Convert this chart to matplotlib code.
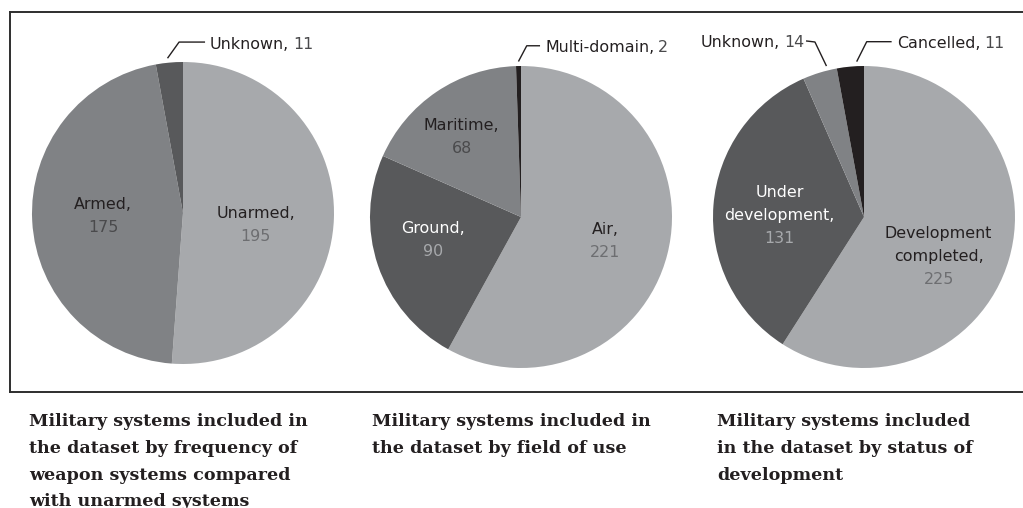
import numpy as np
import matplotlib.pyplot as plt
from matplotlib.lines import Line2D

W, H = 1023, 508
fig = plt.figure(figsize=(W / 100, H / 100), dpi=100)

# data
armed_labels = ['Unarmed,', 'Armed,', 'Unknown,']
armed_values = [195, 175, 11]
field_labels = ['Air,', 'Ground,', 'Maritime,', 'Multi-domain,']
field_values = [221, 90, 68, 2]
status_labels = ['Development\ncompleted,', 'Under\ndevelopment,', 'Unknown,', 'Cancelled,']
status_values = [225, 131, 14, 11]

titles = [
    ['Military systems included in', 'the dataset by frequency of',
     'weapon systems compared', 'with unarmed systems'],
    ['Military systems included in', 'the dataset by field of use'],
    ['Military systems included', 'in the dataset by status of', 'development'],
]

LIGHT, MID, DARK, BLACK = '#a7a9ac', '#808285', '#58595b', '#231f20'
TXT = '#231f20'
# name colour, number colour for labels sitting on a slice
on_slice = {LIGHT: (TXT, '#6d6e71'), MID: (TXT, '#4a4a4c'), DARK: ('white', '#a7a9ac')}

R = 151  # pie radius in pixels
pies = [
    dict(labels=armed_labels, values=armed_values, colors=[LIGHT, MID, DARK], center=(183, 213),
         # inside: (dist, angle shift) ; outside: (frac, elbow, end, side)
         place=[('in', 0.49, -7.6), ('in', 0.53, -1.0),
                ('out', 0.55, (-0.026, 1.132), (0.146, 1.132), 'right')]),
    dict(labels=field_labels, values=field_values, colors=[LIGHT, DARK, MID, BLACK], center=(521, 217),
         place=[('in', 0.58, -1.5), ('in', 0.60, -4.0), ('in', 0.66, 2.5),
                ('out', 0.5, (0.038, 1.134), (0.126, 1.134), 'right')]),
    dict(labels=status_labels, values=status_values, colors=[LIGHT, DARK, MID, BLACK], center=(864, 217),
         place=[('in', 0.56, -11.8), ('in', 0.56, 3.8),
                ('out', 0.27, (-0.325, 1.159), (-0.384, 1.166), 'left'),
                ('out', 0.26, (0.018, 1.161), (0.183, 1.161), 'right')]),
]

FS = 11.4
LS = 23  # inside label line step, px

for p in pies:
    cx, cy = p['center']
    ax = fig.add_axes([(cx - R) / W, (H - cy - R) / H, 2 * R / W, 2 * R / H])
    wedges, _ = ax.pie(p['values'], colors=p['colors'], startangle=90, counterclock=False,
                       radius=1, wedgeprops=dict(linewidth=0))
    ax.set_xlim(-1, 1)
    ax.set_ylim(-1, 1)
    ax.axis('off')

    for w, name, val, col, pl in zip(wedges, p['labels'], p['values'], p['colors'], p['place']):
        if pl[0] == 'in':
            _, dist, dth = pl
            th = np.deg2rad((w.theta1 + w.theta2) / 2 + dth)
            pos = (dist * np.cos(th), dist * np.sin(th))
            lines = name.split('\n') + [str(val)]
            ncol, vcol = on_slice[col]
            n = len(lines)
            for k, line in enumerate(lines):
                ax.annotate(line, xy=pos, xytext=(0, ((n - 1) / 2 - k) * LS),
                            textcoords='offset pixels', ha='center', va='center',
                            fontsize=FS, color=vcol if k == n - 1 else ncol, annotation_clip=False)
        else:
            _, f, elbow, end, side = pl
            th = np.deg2rad(w.theta1 + f * (w.theta2 - w.theta1))
            start = (1.03 * np.cos(th), 1.03 * np.sin(th))
            ax.plot([start[0], elbow[0], end[0]], [start[1], elbow[1], end[1]],
                    color=TXT, lw=1.0, clip_on=False, solid_capstyle='butt')
            if side == 'right':
                t1 = ax.annotate(name, xy=end, xytext=(5, -6.5), textcoords='offset pixels',
                                 ha='left', va='baseline', fontsize=FS, color=TXT, annotation_clip=False)
                ax.annotate(str(val), xy=(1, 0), xycoords=t1, xytext=(4, 0), textcoords='offset pixels',
                            ha='left', va='bottom', fontsize=FS, color='#4a4a4c')
            else:
                t1 = ax.annotate(str(val), xy=end, xytext=(-2, -6.5), textcoords='offset pixels',
                                 ha='right', va='baseline', fontsize=FS, color='#4a4a4c', annotation_clip=False)
                ax.annotate(name, xy=(0, 0), xycoords=t1, xytext=(-4, 0), textcoords='offset pixels',
                            ha='right', va='bottom', fontsize=FS, color=TXT)

# frame round the pies (open on the right, runs off the picture)
for xs, ys in [([10, 1030], [11.5, 11.5]), ([10, 10], [11.5, 392]), ([10, 1030], [392, 392])]:
    fig.add_artist(Line2D([x / W for x in xs], [1 - y / H for y in ys], color='#2e2e2e', lw=1.4))

# titles under the pies
title_x = [29, 372, 717]
for x, lines in zip(title_x, titles):
    for k, line in enumerate(lines):
        fig.text(x / W, 1 - (426.5 + 26.5 * k) / H, line, family='DejaVu Serif', fontweight='bold',
                 fontsize=12.6, color=TXT, ha='left', va='baseline')

plt.savefig('out.png', dpi=100)
